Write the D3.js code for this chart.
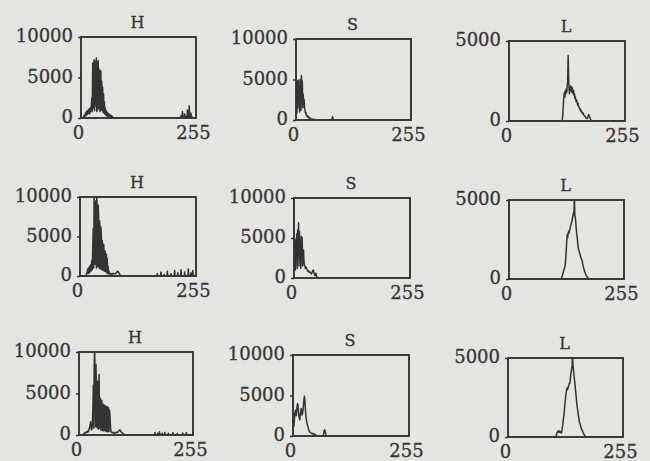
<!DOCTYPE html>
<html>
<head>
<meta charset="utf-8">
<script src="https://cdn.jsdelivr.net/npm/d3@7"></script>
<style>
  html, body { margin: 0; padding: 0; background: #e4e4e0; }
  svg { display: block; }
</style>
</head>
<body>
<svg id="chart" width="650" height="461"></svg>
<script>
// ---------------- DATA (histogram counts per bin, 0..255) ----------------
const binCount = 256;
const panelTitles = ["H", "S", "L", "H", "S", "L", "H", "S", "L"];
const yMaxima = [10000, 10000, 5000, 10000, 10000, 5000, 10000, 10000, 5000];
const xTickLabels = [0, 255];

// Row 1
const h1Start = 6;
const h1Values = [100,300,200,400,600,300,800,400,900,500,1000,600,1100,500,1200,700,1300,1500,
  2500,800,6800,1200,5000,7200,900,6500,7000,1500,7400,800,6800,1000,7100,5000,1200,6000,800,
  5200,5800,1000,4500,900,3800,700,3000,600,2000,500,1200,400,900,
  300,700,200,600,300,500,200,400,300,200,300,100,200,100];
const h1TailBins = [222,225,226,230,233,236,238,240,241,244,246];
const h1TailValues = [300,800,200,500,200,1000,400,1500,300,600,200];

const s1Start = 0;
const s1Values = [3000,4500,800,4800,1500,4900,2500,4000,1000,5000,4200,1200,5500,3500,4800,1500,3200,
  2200,2500,1500,1200,800,900,600,500,400,500,300,400,300,200,250,200,150,100,100,80,100,60,80,50,60,40];
const s1TailBins = [80,81,82];
const s1TailValues = [200,400,200];

const l1Start = 116;
const l1Values = [0,50,300,800,1300,1600,1800,1500,1900,1700,2000,1800,2200,2500,4100,2800,2000,
  1700,2100,1900,2200,2000,1800,2100,1900,1700,1900,1600,1700,1400,1500,1300,1200,1300,1100,
  1000,1100,900,850,800,700,750,600,650,550,500,450,500,400,350,300,300,250,200,180,150,150,
  200,300,400,350,250,200,120,60,0];
const l1TailBins = [];
const l1TailValues = [];

// Row 2
const h2Start = 14;
const h2Values = [200,400,600,900,300,1000,400,1200,500,1400,600,1300,2000,800,
  3500,6000,1000,10500,7000,1500,9500,5000,1000,10500,6500,1200,9000,7500,1000,7000,6000,900,
  6200,5000,800,4500,3500,700,4000,3000,600,3200,2500,500,2800,400,2200,300,1200,300,600,
  300,250,300,200,300,250,300,250,300,350,300,300,250,300,350,400,500,600,500,550,450,350,250,150,80];
const h2TailBins = [170,178,185,192,200,208,215,222,230,238,244,248];
const h2TailValues = [300,500,200,600,300,700,400,800,500,900,400,700];

const s2Start = 0;
const s2Values = [2000,3500,4900,1000,4500,3000,5500,1200,6000,4000,6900,1500,5800,3000,4500,1200,
  5200,4000,5000,1500,3000,3500,2000,1600,1500,1200,1400,1300,1200,1000,900,800,900,800,700,750,
  700,600,500,600,700,900,1000,900,600,400,300,400,600,400,200,100,0];
const s2TailBins = [];
const s2TailValues = [];

const l2Start = 116;
const l2Values = [0,100,200,300,400,500,600,700,800,1000,1400,1800,2400,2800,2600,2900,3000,2900,
  3100,3100,3300,3400,3500,3600,3700,3900,4000,4200,4100,5200,4000,3900,3600,3200,2900,2700,2400,
  2100,1900,1800,1700,1600,1500,1400,1300,1250,1200,1000,900,750,650,550,450,380,300,250,200,150,
  100,80,50,20,0];
const l2TailBins = [];
const l2TailValues = [];

// Row 3
const h3Start = 10;
const h3Values = [100,150,200,300,250,300,350,300,400,350,500,400,600,800,1000,1300,1600,900,600,
  800,1500,3000,6000,800,8500,10500,7000,1000,8500,5500,900,6500,5000,700,6000,7300,800,4500,4000,
  600,3800,4200,500,3500,3700,500,3400,3600,500,3300,3500,400,3200,3400,400,3100,3300,400,3000,
  2500,1500,600,400,300,350,
  300,250,300,250,300,250,300,250,300,300,350,300,350,400,500,600,550,600,500,400,350,300,250,200,
  150,100,50];
const h3TailBins = [170,176,180,186,192,200,210,220,232,240];
const h3TailValues = [300,200,400,200,300,200,300,200,250,300];

const s3Start = 0;
const s3Values = [1500,1800,1200,2000,2800,3000,3200,2500,3000,3600,4000,3800,3000,2500,2200,2000,
  2600,3000,3400,3000,2600,2800,3200,3800,4400,4900,4500,3500,2700,2200,1800,1500,1300,1150,900,
  700,600,500,450,400,350,350,300,250,300,250,200,250,200,150,100,80,60,40];
const s3TailBins = [67,68,69,70,71,72];
const s3TailValues = [200,500,700,750,500,200];

const l3Start = 106;
const l3Values = [0,100,200,300,350,300,350,400,350,300,350,300,250,300,500,700,900,1200,1400,1700,
  2000,2300,2600,2800,3000,3100,3000,3100,3200,3300,3400,3400,3600,3900,4100,4300,4500,5200,4600,
  4300,4000,3700,3500,3200,2900,2600,2300,2000,1800,1600,1400,1200,1000,900,800,700,600,500,460,
  400,300,250,200,150,100,50,0];
const l3TailBins = [];
const l3TailValues = [];

// ---------------- LAYOUT (positions of each panel box) ----------------
const boxes = [
  {x: 81, y: 37, w: 115, h: 81}, {x: 296, y: 39, w: 115, h: 81}, {x: 509, y: 41, w: 116, h: 80},
  {x: 80, y: 197, w: 116, h: 79}, {x: 294, y: 198, w: 116, h: 80}, {x: 509, y: 200, w: 115, h: 79},
  {x: 79, y: 352, w: 114, h: 83}, {x: 293, y: 355, w: 116, h: 81}, {x: 508, y: 358, w: 115, h: 79}
];

const series = [
  [h1Start, h1Values, h1TailBins, h1TailValues],
  [s1Start, s1Values, s1TailBins, s1TailValues],
  [l1Start, l1Values, l1TailBins, l1TailValues],
  [h2Start, h2Values, h2TailBins, h2TailValues],
  [s2Start, s2Values, s2TailBins, s2TailValues],
  [l2Start, l2Values, l2TailBins, l2TailValues],
  [h3Start, h3Values, h3TailBins, h3TailValues],
  [s3Start, s3Values, s3TailBins, s3TailValues],
  [l3Start, l3Values, l3TailBins, l3TailValues]
];

function buildHistogram(start, vals, tailBins, tailVals) {
  const arr = new Array(binCount).fill(0);
  vals.forEach((v, i) => { if (start + i < binCount) arr[start + i] = v; });
  tailBins.forEach((b, i) => { arr[b] = tailVals[i]; });
  return arr.map((v, i) => ({bin: i, count: v}));
}

// ---------------- DRAW ----------------
const ink = "#333333";
const textInk = "#363636";
const svg = d3.select("#chart");
svg.append("rect").attr("width", 650).attr("height", 461).attr("fill", "#e4e4e0");
const defs = svg.append("defs");

boxes.forEach((b, i) => {
  const data = buildHistogram(...series[i]);
  const x = d3.scaleLinear().domain([0, 255]).range([b.x, b.x + b.w]);
  const y = d3.scaleLinear().domain([0, yMaxima[i]]).range([b.y + b.h, b.y]);
  const g = svg.append("g");

  defs.append("clipPath").attr("id", "clip" + i)
    .append("rect").attr("x", b.x).attr("y", b.y).attr("width", b.w).attr("height", b.h);

  // histogram trace
  g.append("path")
    .datum(data)
    .attr("clip-path", `url(#clip${i})`)
    .attr("fill", "none")
    .attr("stroke", ink)
    .attr("stroke-width", 1.5)
    .attr("stroke-linejoin", "round")
    .attr("d", d3.line().x(d => x(d.bin)).y(d => y(d.count)));

  // frame
  g.append("rect")
    .attr("x", b.x).attr("y", b.y).attr("width", b.w).attr("height", b.h)
    .attr("fill", "none").attr("stroke", ink).attr("stroke-width", 1.9);

  // y axis
  const yTicks = yMaxima[i] === 10000 ? [0, 5000, 10000] : [0, 5000];
  const ya = g.append("g")
    .attr("transform", `translate(${b.x},0)`)
    .call(d3.axisLeft(y).tickValues(yTicks).tickSize(3).tickPadding(5).tickFormat(d3.format("d")));
  ya.select(".domain").remove();
  ya.selectAll("line").attr("stroke", ink).attr("stroke-width", 1.5);
  ya.selectAll("text")
    .attr("font-family", "DejaVu Serif, serif")
    .attr("font-size", 18)
    .attr("fill", textInk)
    .attr("stroke", textInk)
    .attr("stroke-width", 0.3)
    .attr("dy", "0.25em");

  // x axis
  const xa = g.append("g")
    .attr("transform", `translate(0,${b.y + b.h})`)
    .call(d3.axisBottom(x).tickValues(xTickLabels).tickSize(0).tickPadding(8).tickFormat(d3.format("d")));
  xa.select(".domain").remove();
  xa.selectAll("text")
    .attr("font-family", "DejaVu Serif, serif")
    .attr("font-size", 18)
    .attr("fill", textInk)
    .attr("stroke", textInk)
    .attr("stroke-width", 0.3)
    .attr("dx", -3);

  // title
  g.append("text")
    .attr("x", b.x + b.w / 2 - 1)
    .attr("y", b.y - 9)
    .attr("text-anchor", "middle")
    .attr("font-family", "DejaVu Serif, serif")
    .attr("font-size", 16)
    .attr("fill", textInk)
    .attr("stroke", textInk)
    .attr("stroke-width", 0.3)
    .text(panelTitles[i]);
});
</script>
</body>
</html>
